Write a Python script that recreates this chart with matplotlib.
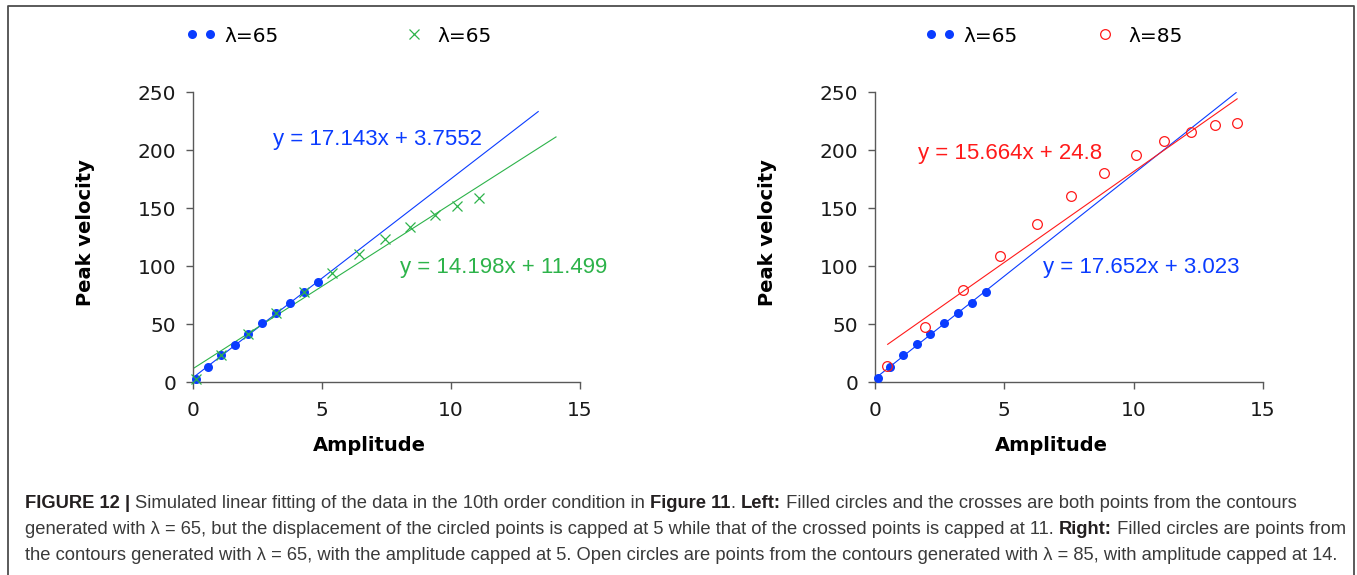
import matplotlib

matplotlib.use("Agg")
import matplotlib.pyplot as plt
from matplotlib.font_manager import FontProperties
from matplotlib.legend_handler import HandlerLine2D
from matplotlib.lines import Line2D

# ---- data ----
amp65_short = [0.10, 0.58, 1.07, 1.61, 2.13, 2.69, 3.22, 3.76, 4.30, 4.86]
vel65_short = [2.6, 13.2, 23.3, 32.2, 41.4, 50.9, 59.8, 68.4, 77.3, 85.9]

amp65_long = [0.10, 1.07, 2.13, 3.22, 4.30, 5.37, 6.45, 7.45, 8.42, 9.38, 10.23, 11.09]
vel65_long = [2.6, 23.3, 41.4, 59.8, 77.3, 93.7, 110.1, 123.0, 133.9, 144.0, 151.7, 158.4]

amp65_right = [0.13, 0.58, 1.07, 1.61, 2.14, 2.67, 3.21, 3.75, 4.28]
vel65_right = [3.2, 13.2, 23.3, 32.5, 41.4, 50.6, 59.8, 68.4, 77.3]

amp85 = [0.45, 1.92, 3.39, 4.82, 6.25, 7.59, 8.85, 10.08, 11.16, 12.20, 13.14, 13.98]
vel85 = [13.8, 47.4, 79.0, 108.9, 135.9, 160.3, 180.2, 195.7, 208.0, 215.8, 221.2, 223.0]

# trendlines: (slope, intercept, x start, x end) as labelled in the chart
fit_left_blue = (17.143, 3.7552, 0.10, 13.38)
fit_left_green = (14.198, 11.499, 0.05, 14.07)
fit_right_blue = (17.652, 3.023, 0.13, 13.96)
fit_right_red = (15.664, 24.8, 0.49, 14.0)

BLUE = "#0a3cff"
GREEN = "#2db34a"
RED = "#ff1a1a"
AXIS = "#595959"
TICK_FONT = 14.5
EQ_SIZE = 16

fig = plt.figure(figsize=(13.57, 5.75), dpi=100)
W, H = 1357, 575


def px_axes(x0, y_top, x1, y_bot):
    return fig.add_axes([x0 / W, 1 - y_bot / H, (x1 - x0) / W, (y_bot - y_top) / H])


def style_axes(ax):
    ax.set_xlim(0, 15)
    ax.set_ylim(0, 250)
    ax.set_xticks([0, 5, 10, 15])
    ax.set_yticks([0, 50, 100, 150, 200, 250])
    for side in ("top", "right"):
        ax.spines[side].set_visible(False)
    for side in ("left", "bottom"):
        ax.spines[side].set_color(AXIS)
        ax.spines[side].set_linewidth(1.0)
    ax.tick_params(direction="out", length=5, width=1.0, color=AXIS,
                   labelsize=TICK_FONT, labelcolor="#1a1a1a")
    ax.tick_params(axis="x", pad=9)
    ax.tick_params(axis="y", pad=7)
    ax.set_xlabel("Amplitude", fontsize=14, fontweight="bold")
    ax.set_ylabel("Peak velocity", fontsize=14, fontweight="bold")
    ax.xaxis.set_label_coords(0.455, -0.185)
    ax.yaxis.set_label_coords(-0.253, 0.517)


def trend(ax, fit, color):
    slope, icpt, x0, x1 = fit
    ax.plot([x0, x1], [slope * x0 + icpt, slope * x1 + icpt], color=color, lw=0.8)


def equation(text, x, y, color):
    fig.text(x / W, 1 - y / H, text, va="center", ha="left", fontsize=EQ_SIZE,
             color=color, family="Liberation Sans")


def top_legend(ax, handles, x_left, spacing):
    ax.legend(handles=handles, ncol=2, frameon=False, fontsize=TICK_FONT,
              loc="center left", bbox_to_anchor=(x_left / W, 1 - 36 / H),
              bbox_transform=fig.transFigure, borderpad=0, borderaxespad=0,
              handlelength=1.5, handletextpad=0.4, columnspacing=spacing,
              handler_map={handles[0]: HandlerLine2D(numpoints=2)})


# ---- left panel ----
ax1 = px_axes(193, 92, 580, 382)
style_axes(ax1)
trend(ax1, fit_left_blue, BLUE)
trend(ax1, fit_left_green, GREEN)
h_blue1, = ax1.plot(amp65_short, vel65_short, "o", color=BLUE, ms=6.5, mew=0,
                    label="λ=65", clip_on=False, zorder=3)
h_green, = ax1.plot(amp65_long, vel65_long, "x", color=GREEN, ms=7.5, mew=0.9,
                    label="λ=65", clip_on=False, zorder=4)
equation("y = 17.143x + 3.7552", 273, 139, BLUE)
equation("y = 14.198x + 11.499", 400, 268, GREEN)
top_legend(ax1, [h_blue1, h_green], 186, 6.0)

# ---- right panel ----
ax2 = px_axes(875, 92, 1263, 382)
style_axes(ax2)
trend(ax2, fit_right_blue, BLUE)
trend(ax2, fit_right_red, RED)
h_blue2, = ax2.plot(amp65_right, vel65_right, "o", color=BLUE, ms=6.5, mew=0,
                    label="λ=65", clip_on=False, zorder=3)
h_red, = ax2.plot(amp85, vel85, "o", mfc="none", mec=RED, ms=7, mew=0.9,
                  label="λ=85", clip_on=False, zorder=4)
equation("y = 15.664x + 24.8", 918, 153, RED)
equation("y = 17.652x + 3.023", 1043, 268, BLUE)
top_legend(ax2, [h_blue2, h_red], 925, 3.6)

# ---- frame around the figure (bottom runs off the page) ----
frame_x = [8 / W, 8 / W, 1354 / W, 1354 / W]
frame_y = [0, 1 - 6 / H, 1 - 6 / H, 0]
fig.add_artist(Line2D(frame_x, frame_y, transform=fig.transFigure, color="#4d4d4d", lw=1.3))

# ---- caption with bold runs ----
caption = [
    [("FIGURE 12 | ", True), ("Simulated linear fitting of the data in the 10th order condition in ", False),
     ("Figure 11", True), (". ", False), ("Left:", True),
     (" Filled circles and the crosses are both points from the contours", False)],
    [("generated with λ = 65, but the displacement of the circled points is capped at 5 while that of "
      "the crossed points is capped at 11. ", False), ("Right:", True),
     (" Filled circles are points from", False)],
    [("the contours generated with λ = 65, with the amplitude capped at 5. Open circles are points from "
      "the contours generated with λ = 85, with amplitude capped at 14.", False)],
]
caption_y = [508, 534, 560]
CAP_FONT = "Liberation Sans"
renderer = fig.canvas.get_renderer()


def advance(s, prop):
    w1 = renderer.get_text_width_height_descent("|" + s + "|", prop, ismath=False)[0]
    w0 = renderer.get_text_width_height_descent("||", prop, ismath=False)[0]
    return w1 - w0


def cap_prop(size, bold):
    return FontProperties(family=CAP_FONT, size=size, weight="bold" if bold else "normal")


def line_width(parts, size):
    return sum(advance(txt, cap_prop(size, bold)) for txt, bold in parts)


# scale the caption so the last line spans about the same width as in the reference
base = 10.0
cap_size = base * 1314 / line_width(caption[2], base)

for parts, y in zip(caption, caption_y):
    x = 25
    for txt, bold in parts:
        prop = cap_prop(cap_size, bold)
        fig.text(x / W, 1 - y / H, txt, fontproperties=prop,
                 color="#231f20" if bold else "#3a3a3a", va="baseline")
        x += advance(txt, prop)

fig.savefig("out.png", dpi=100)
